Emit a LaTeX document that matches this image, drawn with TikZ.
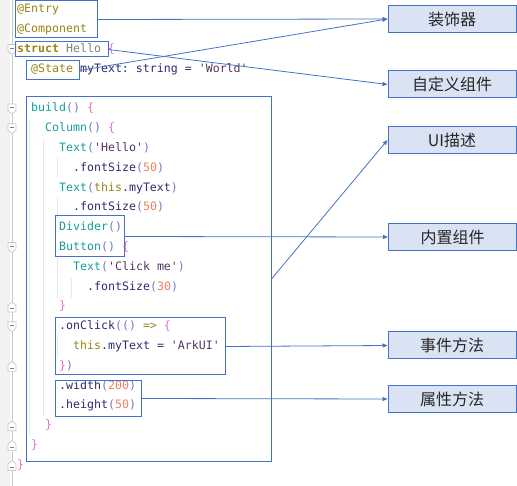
\documentclass[tikz,border=0pt]{standalone}
\usepackage{fontspec}
\setmonofont{DejaVu Sans Mono}
\newfontfamily\cjk{Noto Sans CJK SC}
\usepackage{xcolor}
\usepackage{tikz}
\usetikzlibrary{arrows.meta,positioning,fit}

\definecolor{boxblue}{RGB}{68,114,196}
\definecolor{tagfill}{RGB}{218,227,243}
\definecolor{kwolive}{RGB}{152,132,20}
\definecolor{fnteal}{RGB}{24,156,156}
\definecolor{parlav}{RGB}{118,118,196}
\definecolor{brpink}{RGB}{232,110,205}
\definecolor{strpurple}{RGB}{84,52,98}
\definecolor{idnavy}{RGB}{44,44,112}
\definecolor{numsalmon}{RGB}{240,128,96}
\definecolor{gutterbg}{RGB}{242,242,242}
\definecolor{gutterline}{RGB}{200,200,200}
\definecolor{indentline}{RGB}{232,232,232}

\newcommand{\ckw}[1]{\textcolor{kwolive}{#1}}
\newcommand{\cfn}[1]{\textcolor{fnteal}{#1}}
\newcommand{\cpar}[1]{\textcolor{parlav}{#1}}
\newcommand{\cbr}[1]{\textcolor{brpink}{#1}}
\newcommand{\cstr}[1]{\textcolor{strpurple}{#1}}
\newcommand{\cid}[1]{\textcolor{idnavy}{#1}}
\newcommand{\cnum}[1]{\textcolor{numsalmon}{#1}}
\newcommand{\cgray}[1]{\textcolor{gray}{#1}}

\begin{document}
\begin{tikzpicture}[x=1pt, y=-1pt, arrow/.style = {draw=boxblue, line width=0.8pt, -{Triangle[length=5pt,width=4pt]}}]
		\tikzset{code/.style={anchor=west, inner sep=0pt, text height=8.5pt, text depth=2.5pt, font=\ttfamily\fontsize{11.6}{14}\selectfont}}
		\tikzset{codebox/.style={draw=boxblue, line width=1pt, inner sep=0pt}}
		\tikzset{tagbox/.style={draw=boxblue, fill=tagfill, line width=1pt, inner sep=0pt, minimum width=128pt, minimum height=27pt, text=black!85, font=\cjk\fontsize{16}{19}\selectfont}}

		\useasboundingbox (0,0) rectangle (517,486);

		% Gutter
		\fill[gutterbg] (0,0) rectangle (10,486);
		\draw[gutterline, line width=0.8pt] (12,0) -- (12,486);

		% Indent guides
		\draw[indentline, line width=0.8pt] (29,119) -- (29,436);
		\draw[indentline, line width=0.8pt] (43,139) -- (43,416);
		\draw[indentline, line width=0.8pt] (57,158) -- (57,178) (57,198) -- (57,218) (57,258) -- (57,298) (57,337) -- (57,357);
		\draw[indentline, line width=0.8pt] (71,278) -- (71,298);

		% Fold markers
		\foreach \y in {49.6,109,128.8,247.6,326.8}{
			\draw[gutterline, fill=white, line width=0.7pt] (8,\y-5) -- (16,\y-5) -- (16,\y+1.5) -- (12,\y+5) -- (8,\y+1.5) -- cycle;
			\draw[gray, line width=0.6pt] (10,\y-1.5) -- (14,\y-1.5);
		}
		\foreach \y in {307,366.4,425.8,445.6,465.4}{
			\draw[gutterline, fill=white, line width=0.7pt] (8,\y+5) -- (16,\y+5) -- (16,\y-1.5) -- (12,\y-5) -- (8,\y-1.5) -- cycle;
			\draw[gray, line width=0.6pt] (10,\y+1.5) -- (14,\y+1.5);
		}

		% Code
		\node[code] (entry) at (17,10) {\ckw{@Entry}};
		\node[code] (component) at (17,29.8) {\ckw{@Component}};
		\node[code] (struct) at (17,49.6) {\ckw{\bfseries struct} \cgray{Hello} \cbr{\{}};
		\node[code] (state) at (31,69.4) {\ckw{@State} \cid{myText: string =} \cstr{'World'}};
		\node[code] (build) at (31,109) {\cfn{build}\cpar{()} \cbr{\{}};
		\node[code] (column) at (45,128.8) {\cfn{Column}\cpar{()} \cbr{\{}};
		\node[code] (texthello) at (59,148.6) {\cfn{Text}\cpar{(}\cstr{'Hello'}\cpar{)}};
		\node[code] (sizea) at (73,168.4) {\cid{.fontSize}\cpar{(}\cnum{50}\cpar{)}};
		\node[code] (textmy) at (59,188.2) {\cfn{Text}\cpar{(}\ckw{this}\cid{.myText}\cpar{)}};
		\node[code] (sizeb) at (73,208) {\cid{.fontSize}\cpar{(}\cnum{50}\cpar{)}};
		\node[code] (divider) at (59,227.8) {\cfn{Divider}\cpar{()}};
		\node[code] (button) at (59,247.6) {\cfn{Button}\cpar{()} \cbr{\{}};
		\node[code] (textclick) at (73,267.4) {\cfn{Text}\cpar{(}\cstr{'Click me'}\cpar{)}};
		\node[code] (sizec) at (87,287.2) {\cid{.fontSize}\cpar{(}\cnum{30}\cpar{)}};
		\node[code] (buttonend) at (59,307) {\cbr{\}}};
		\node[code] (onclick) at (59,326.8) {\cid{.onClick}\cpar{(()} \ckw{=>} \cbr{\{}};
		\node[code] (assign) at (73,346.6) {\ckw{this}\cid{.myText =} \cstr{'ArkUI'}};
		\node[code] (onclickend) at (59,366.4) {\cbr{\}}\cpar{)}};
		\node[code] (width) at (59,386.2) {\cid{.width}\cpar{(}\cnum{200}\cpar{)}};
		\node[code] (height) at (59,406) {\cid{.height}\cpar{(}\cnum{50}\cpar{)}};
		\node[code] (columnend) at (45,425.8) {\cbr{\}}};
		\node[code] (buildend) at (31,445.6) {\cbr{\}}};
		\node[code] (structend) at (17,465.4) {\cbr{\}}};

		% Boxes round the code
		\node[fit={(15,1) (97,38)}, codebox] (entrybox) {};
		\node[fit={(15,42) (108,57)}, codebox] (structbox) {};
		\node[fit={(26,61) (79,80)}, codebox] (statebox) {};
		\node[fit={(26,97) (271,461)}, codebox] (buildbox) {};
		\node[fit={(55,216) (124,257)}, codebox] (dividerbox) {};
		\node[fit={(55,318) (225,375)}, codebox] (clickbox) {};
		\node[fit={(55,381) (141,416)}, codebox] (attrbox) {};

		% Tags
		\node[tagbox] (deco) at (452,19) {装饰器};
		\node[tagbox] (custom) at (452,84.5) {自定义组件};
		\node[tagbox] (uidesc) at (452,140) {UI描述};
		\node[tagbox] (builtin) at (452.5,237) {内置组件};
		\node[tagbox] (event) at (452,345.5) {事件方法};
		\node[tagbox] (attr) at (452,399) {属性方法};

		% Arrows
		\draw [arrow] (entrybox.east) -- (deco.west);
		\draw [arrow] (statebox.east) -- (deco.west);
		\draw [arrow] (structbox.east) -- (custom.west);
		\draw [arrow] (buildbox.east) -- (uidesc.west);
		\draw [arrow] (dividerbox.east) -- (builtin.west);
		\draw [arrow] (clickbox.east) -- (event.west);
		\draw [arrow] (attrbox.east) -- (attr.west);

	\end{tikzpicture}
\end{document}
